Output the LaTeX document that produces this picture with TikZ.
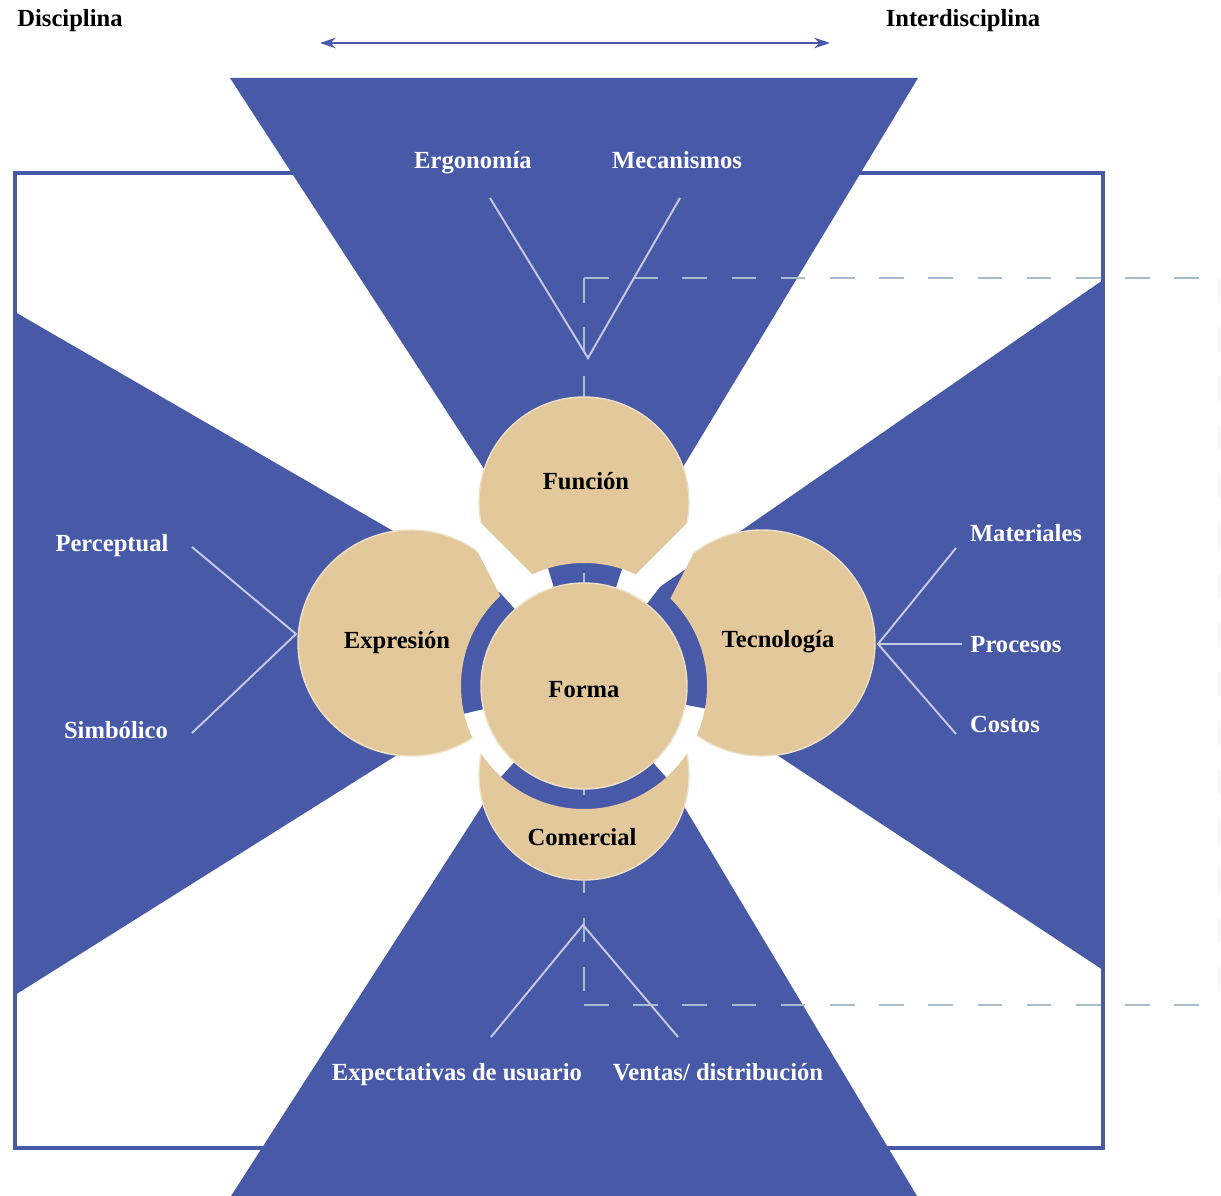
\documentclass[tikz,border=0pt]{standalone}
\usepackage{fontspec}
\setmainfont{Liberation Serif}
\usetikzlibrary{arrows.meta,positioning}
\definecolor{azul}{HTML}{4859A8}
\definecolor{arena}{HTML}{E2C89A}
\definecolor{lila}{HTML}{C5CBE6}
\definecolor{trazo}{HTML}{A7BDCB}
\tikzset{
  cuna/.style={fill=azul,draw=none},
  disco/.style={fill=arena,draw=arena!55!white,line width=0.8pt},
  etiq/.style={font=\fontsize{14}{16}\selectfont\bfseries,text=black,inner sep=0pt,anchor=base},
  rama/.style={etiq,text=white},
  enlace/.style={draw=lila,line width=1.1pt},
  marco/.style={draw=azul,line width=2.2pt},
  corte/.style={draw=trazo,line width=1.6pt,dash pattern=on 14pt off 14pt},
  flecha/.style={draw=azul,line width=1.1pt,{Stealth[length=9pt,width=6pt]}-{Stealth[length=9pt,width=6pt]}},
}
\begin{document}
\begin{tikzpicture}[x=0.02cm,y=-0.02cm]
\useasboundingbox (0,0) rectangle (1221,1196);
\coordinate (O) at (584,686);

% marco exterior
\draw[marco] (15,173) rectangle (1103,1148);

% cunas azules
\fill[cuna] (230,78) -- (918,78) -- (622.6,567.1) -- (O) -- (547.5,566.5) -- cycle;
\fill[cuna] (15,312) -- (500.4,593.1) -- (O) -- (462.2,714.1) -- (15,995) -- cycle;
\fill[cuna] (1103,280) -- (660.1,586.8) -- (O) -- (706.9,708.8) -- (1103,970) -- cycle;
\fill[cuna] (231,1196) -- (500,778) -- (O) -- (667.6,778.9) -- (917,1196) -- cycle;

% recuadro punteado
\draw[corte] (584,278) -- (1221,278);
\draw[corte] (584,1005) -- (1221,1005);
\draw[corte] (584,278) -- (584,1005);
\draw[corte,opacity=0.12] (1219,278) -- (1219,1005);

% circulos exteriores
\begin{scope}[even odd rule]
  \clip (0,0) rectangle (1221,1196) (O) circle [radius=123];
  \begin{scope}
    \clip (380,300) -- (380,422) -- (584,626) -- (788,422) -- (788,300) -- cycle;
    \fill[disco] (584,502) circle [radius=105];
  \end{scope}
  \begin{scope}
    \clip (721,500) -- (900,500) -- (900,800) -- (702,800) -- (694,690) -- (649,640) -- cycle;
    \fill[disco] (762,643) circle [radius=113];
  \end{scope}
  \begin{scope}
    \clip (451,500) -- (272,500) -- (272,800) -- (466,800) -- (478,690) -- (523,640) -- cycle;
    \fill[disco] (411,643) circle [radius=113];
  \end{scope}
  \fill[disco] (584,775) circle [radius=105];
\end{scope}

% circulo central
\fill[disco] (O) circle [radius=103];

% textos
\node[etiq] (disc) at (70,27) {Disciplina};
\node[etiq] (inter) at (963,27) {Interdisciplina};
\node[etiq] (funcion) at (586,489) {Función};
\node[etiq] (expresion) at (397,648) {Expresión};
\node[etiq] (forma) at (584,697) {Forma};
\node[etiq] (tecno) at (778,647) {Tecnología};
\node[etiq] (comercial) at (582,845) {Comercial};

\node[rama] (ergo) at (473,169) {Ergonomía};
\node[rama] (meca) at (677,169) {Mecanismos};
\node[rama] (percep) at (112,551) {Perceptual};
\node[rama] (simb) at (116,738) {Simbólico};
\node[rama] (mater) at (1026,541) {Materiales};
\node[rama] (proce) at (1016,652) {Procesos};
\node[rama] (costos) at (1005,732) {Costos};
\node[rama] (expec) at (457,1080) {Expectativas de usuario};
\node[rama] (ventas) at (718,1080) {Ventas/ distribución};

% flecha superior
\coordinate (fIzq) at (320,43);
\coordinate (fDer) at (830,43);
\draw[flecha] (fIzq) -- (fDer);

% ramas
\coordinate (vF) at (588,358);
\coordinate (vF1) at (490,198);
\coordinate (vF2) at (680,198);
\draw[enlace] (vF1) -- (vF) -- (vF2);

\coordinate (hE) at (296,634);
\coordinate (hE1) at (192,547);
\coordinate (hE2) at (192,733);
\draw[enlace] (hE1) -- (hE) -- (hE2);

\coordinate (hT) at (878,644);
\coordinate (hT1) at (956,548);
\coordinate (hT2) at (962,644);
\coordinate (hT3) at (956,734);
\draw[enlace] (hT1) -- (hT) -- (hT3);
\draw[enlace] (hT) -- (hT2);

\coordinate (vC) at (583,925);
\coordinate (vC1) at (491,1037);
\coordinate (vC2) at (678,1037);
\draw[enlace] (vC1) -- (vC) -- (vC2);
\end{tikzpicture}
\end{document}
